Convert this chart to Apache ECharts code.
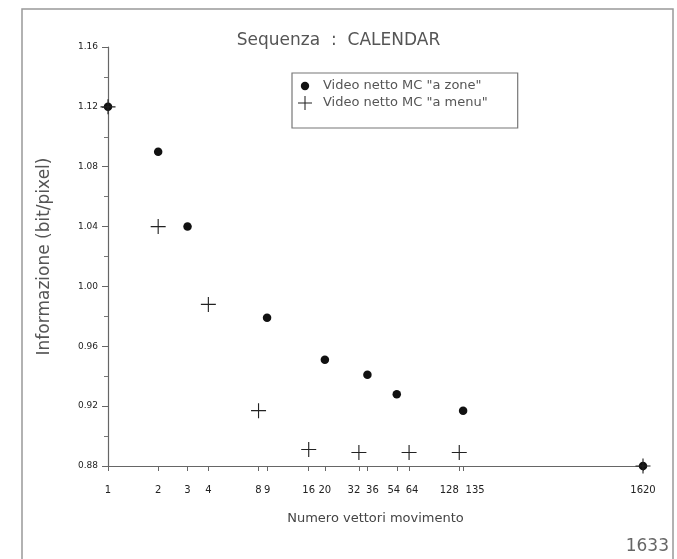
<!DOCTYPE html>
<html>
<head>
<meta charset="utf-8">
<script src="https://cdn.jsdelivr.net/npm/echarts@6/dist/echarts.min.js"></script>
<style>
html, body { margin: 0; background: #fff; }
#main { width: 677px; height: 559px; }
</style>
</head>
<body>
<div id="main"></div>
<script>
// tick positions on the x axis (log scale)
var xTicks = [1, 2, 3, 4, 8, 9, 16, 20, 32, 36, 54, 64, 128, 135, 1620];
// "a zone" series
var zoneX = [1, 2, 3, 9, 20, 36, 54, 135, 1620];
var zoneY = [1.12, 1.09, 1.04, 0.979, 0.951, 0.941, 0.928, 0.917, 0.88];
// "a menu" series
var menuX = [1, 2, 4, 8, 16, 32, 64, 128, 1620];
var menuY = [1.12, 1.04, 0.988, 0.917, 0.891, 0.889, 0.889, 0.889, 0.88];

var FONT = 'DejaVu Sans';
var plus = 'path://M7.4,0H8.6V7.4H16V8.6H8.6V16H7.4V8.6H0V7.4H7.4Z';
// small dot inside a 16x16 box so the legend icon keeps the size of the cross
var dotIcon = 'path://M0,0M16,16M12.8,8A4.8,4.8,0,1,1,3.2,8A4.8,4.8,0,1,1,12.8,8Z';

function pairs(xs, ys) {
    return xs.map(function (x, i) { return [x, ys[i]]; });
}

// labels that sit too close get nudged apart (padding in px)
var nudge = { 32: 'l10', 36: 'r10', 54: 'l6', 64: 'r6', 128: 'l20', 135: 'r24' };

function richStyle(pad) {
    return { fontFamily: FONT, fontSize: 10, color: '#222', padding: pad };
}

var myChart = echarts.init(document.getElementById('main'));
var option = {
    backgroundColor: '#fff',
    animation: false,
    title: {
        text: 'Sequenza  :  CALENDAR',
        left: 'center',
        top: 27,
        textStyle: { fontFamily: FONT, fontSize: 17, fontWeight: 'normal', color: '#555' }
    },
    legend: {
        orient: 'vertical',
        left: 292,
        top: 73,
        padding: [6, 30, 18, 6],
        itemWidth: 14,
        itemHeight: 14,
        itemGap: 3,
        borderColor: '#777',
        borderWidth: 1.2,
        textStyle: { fontFamily: FONT, fontSize: 13, color: '#555', padding: [0, 0, 0, 6] },
        data: [
            { name: 'Video netto MC "a zone"', icon: dotIcon },
            { name: 'Video netto MC "a menu"', icon: plus }
        ]
    },
    grid: { left: 108, top: 47, right: 34, bottom: 93 },
    xAxis: {
        type: 'log',
        min: 1,
        max: 1620,
        name: 'Numero vettori movimento',
        nameLocation: 'middle',
        nameGap: 46,
        nameTextStyle: { fontFamily: FONT, fontSize: 13, color: '#444' },
        axisLine: { lineStyle: { color: '#666', width: 1.2 } },
        axisTick: { show: true, customValues: xTicks, length: 5, lineStyle: { color: '#666' } },
        minorTick: { show: false },
        splitLine: { show: false },
        minorSplitLine: { show: false },
        axisLabel: {
            customValues: xTicks,
            margin: 19,
            fontFamily: FONT,
            fontSize: 10,
            color: '#222',
            formatter: function (v) {
                return nudge[v] ? '{' + nudge[v] + '|' + v + '}' : String(v);
            },
            rich: {
                l6: richStyle([0, 6, 0, 0]),
                l10: richStyle([0, 10, 0, 0]),
                l20: richStyle([0, 20, 0, 0]),
                r6: richStyle([0, 0, 0, 6]),
                r10: richStyle([0, 0, 0, 10]),
                r24: richStyle([0, 0, 0, 24])
            }
        }
    },
    yAxis: {
        type: 'value',
        min: 0.88,
        max: 1.16,
        interval: 0.04,
        name: 'Informazione (bit/pixel)',
        nameLocation: 'middle',
        nameGap: 55,
        nameRotate: 90,
        nameTextStyle: { fontFamily: FONT, fontSize: 17, color: '#555' },
        axisLine: { show: true, lineStyle: { color: '#666', width: 1.2 } },
        axisTick: { show: true, length: 6, lineStyle: { color: '#666' } },
        minorTick: { show: true, splitNumber: 2, length: 4, lineStyle: { color: '#777' } },
        splitLine: { show: false },
        axisLabel: {
            margin: 10,
            fontFamily: FONT,
            fontSize: 9,
            color: '#222',
            formatter: function (v) { return v.toFixed(2); }
        }
    },
    series: [
        {
            name: 'Video netto MC "a zone"',
            type: 'scatter',
            symbol: 'circle',
            symbolSize: 8.5,
            itemStyle: { color: '#111', opacity: 1 },
            data: pairs(zoneX, zoneY)
        },
        {
            name: 'Video netto MC "a menu"',
            type: 'scatter',
            symbol: plus,
            symbolSize: 15,
            itemStyle: { color: '#222', opacity: 1 },
            data: pairs(menuX, menuY)
        }
    ],
    graphic: [
        {
            type: 'rect',
            shape: { x: 22, y: 9, width: 651, height: 600 },
            style: { fill: 'none', stroke: '#999', lineWidth: 1.5 },
            silent: true
        },
        {
            type: 'text',
            right: 8,
            top: 538,
            style: { text: '1633', font: '17px ' + FONT, fill: '#666' }
        }
    ]
};
myChart.setOption(option);
</script>
</body>
</html>
